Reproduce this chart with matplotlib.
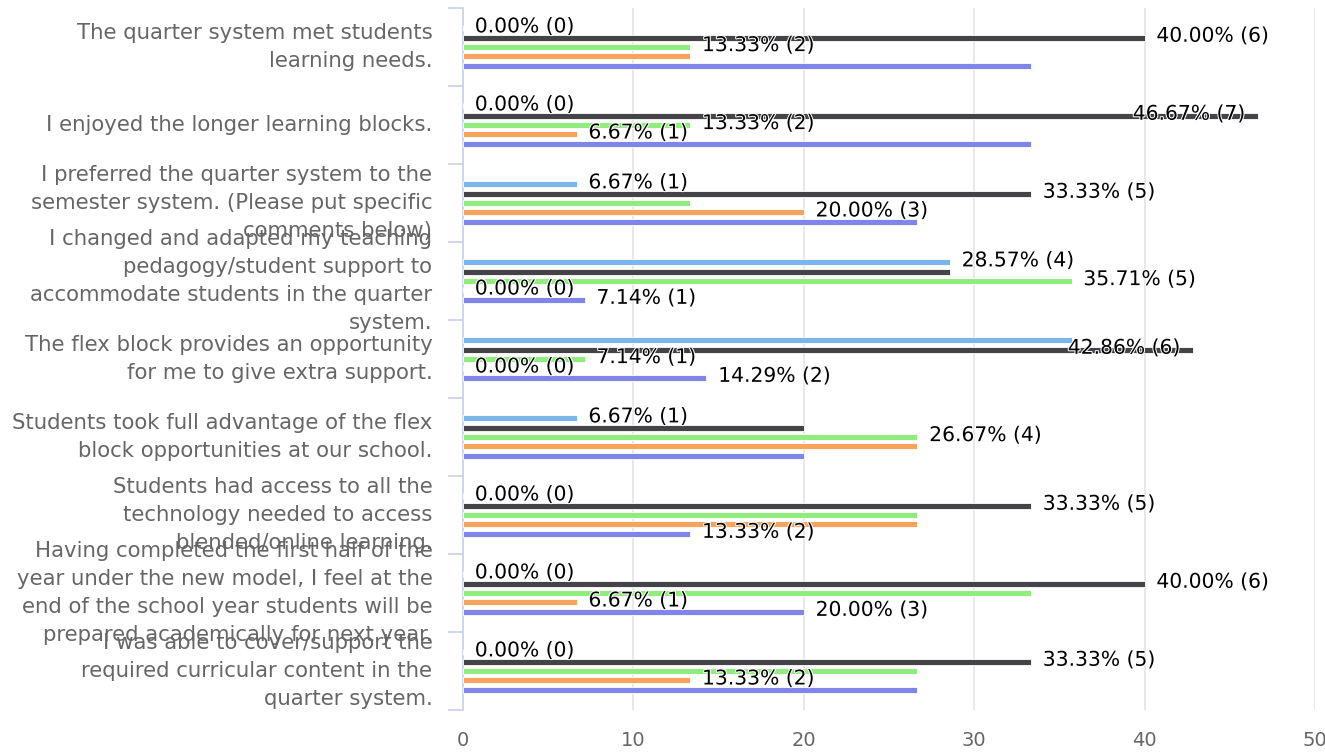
import matplotlib
matplotlib.use("Agg")
import matplotlib.pyplot as plt
import matplotlib.patheffects as pe
import matplotlib.transforms as mtransforms
import numpy as np

plt.rcParams["font.family"] = ["DejaVu Sans"]

# ---- data ----
categories = [
    "The quarter system met students\nlearning needs.",
    "I enjoyed the longer learning blocks.",
    "I preferred the quarter system to the\nsemester system. (Please put specific\ncomments below)",
    "I changed and adapted my teaching\npedagogy/student support to\naccommodate students in the quarter\nsystem.",
    "The flex block provides an opportunity\nfor me to give extra support.",
    "Students took full advantage of the flex\nblock opportunities at our school.",
    "Students had access to all the\ntechnology needed to access\nblended/online learning.",
    "Having completed the first half of the\nyear under the new model, I feel at the\nend of the school year students will be\nprepared academically for next year.",
    "I was able to cover/support the\nrequired curricular content in the\nquarter system.",
]

# response counts per series (top bar to bottom bar inside each group)
counts_s1 = [0, 0, 1, 4, 5, 1, 0, 0, 0]
counts_s2 = [6, 7, 5, 4, 6, 3, 5, 6, 5]
counts_s3 = [2, 2, 2, 5, 1, 4, 4, 5, 4]
counts_s4 = [2, 1, 3, 0, 0, 4, 4, 1, 2]
counts_s5 = [5, 5, 4, 1, 2, 3, 2, 3, 4]

# which data labels survive the overlap hiding in the original
visible_s1 = [1, 1, 1, 1, 0, 1, 1, 1, 1]
visible_s2 = [1, 1, 1, 0, 1, 0, 1, 1, 1]
visible_s3 = [1, 1, 0, 1, 1, 1, 0, 0, 0]
visible_s4 = [0, 1, 1, 1, 1, 0, 0, 1, 1]
visible_s5 = [0, 0, 0, 1, 1, 0, 1, 1, 0]

colors = ["#7cb5ec", "#434348", "#90ed7d", "#f7a35c", "#8085e9"]
x_ticks = [0, 10, 20, 30, 40, 50]

series_counts = [counts_s1, counts_s2, counts_s3, counts_s4, counts_s5]
series_visible = [visible_s1, visible_s2, visible_s3, visible_s4, visible_s5]

counts = np.array(series_counts, dtype=float)
totals = counts.sum(axis=0)
pct = counts / totals * 100

# ---- figure ----
fig = plt.figure(figsize=(13.25, 7.52), dpi=100)
ax = fig.add_axes([463 / 1325, 42 / 752, (1315 - 463) / 1325, (710 - 8) / 752])

n_cat = len(categories)
y = np.arange(n_cat)
step = 0.12
bar_h = 0.078

for i in range(len(series_counts)):
    ypos = y + (i - 2) * step
    ax.barh(ypos, pct[i], height=bar_h, color=colors[i], edgecolor="white",
            linewidth=0.6, zorder=3)
    for j in range(n_cat):
        if not series_visible[i][j]:
            continue
        v = pct[i][j]
        txt = f"{v:.2f}% ({int(counts[i][j])})"
        # labels that would run past the plot edge go inside the bar end
        if v + 7.4 > x_ticks[-1]:
            kw = dict(xytext=(-9.5, 1), ha="right")
        else:
            kw = dict(xytext=(8.5, 1), ha="left")
        t = ax.annotate(txt, xy=(v, ypos[j]), textcoords="offset points",
                        va="center", fontsize=14.6, color="black", zorder=5, **kw)
        t.set_path_effects([pe.withStroke(linewidth=1.5, foreground="white")])

ax.set_xlim(0, 50)
ax.set_ylim(n_cat - 0.5, -0.5)
ax.set_xticks(x_ticks)
ax.set_xticklabels([str(v) for v in x_ticks])
ax.grid(axis="x", color="#e6e6e6", linewidth=1.3, zorder=0)

ax.set_yticks(y)
ax.set_yticklabels(categories, fontsize=15.3, color="#666666", linespacing=1.5)
shift = mtransforms.ScaledTranslation(0, 4 / 100, fig.dpi_scale_trans)
for lab in ax.get_yticklabels():
    lab.set_verticalalignment("center")
    lab.set_transform(lab.get_transform() + shift)
ax.set_yticks(np.arange(n_cat + 1) - 0.5, minor=True)
ax.tick_params(axis="y", which="major", length=0, pad=22)
ax.tick_params(axis="y", which="minor", length=11, color="#ccd6eb", width=1.3)
ax.tick_params(axis="x", length=0, labelsize=14, labelcolor="#666666", pad=15)

for side in ["top", "right", "bottom"]:
    ax.spines[side].set_visible(False)
ax.spines["left"].set_color("#ccd6eb")
ax.spines["left"].set_linewidth(1.3)

fig.savefig("out.png", dpi=100, facecolor="white")
